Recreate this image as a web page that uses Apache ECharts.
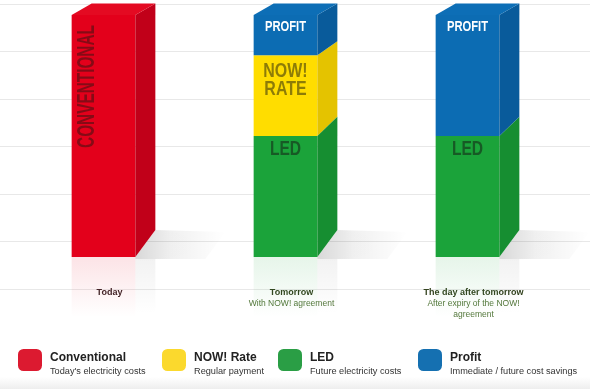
<!DOCTYPE html>
<html>
<head>
<meta charset="utf-8">
<script src="https://cdn.jsdelivr.net/npm/echarts@6/dist/echarts.min.js"></script>
<style>
html,body{margin:0;padding:0;background:#fff;}
#chart{width:590px;height:389px;}
</style>
</head>
<body>
<div id="chart"></div>
<script>
// ---- data ----
const categories = ['Today', 'Tomorrow', 'The day after tomorrow'];
const categoryNotes = ['', 'With NOW! agreement', 'After expiry of the NOW!\nagreement'];
const seriesNames = ['Conventional', 'NOW! Rate', 'LED', 'Profit'];
const seriesNotes = ["Today's electricity costs", 'Regular payment', 'Future electricity costs', 'Immediate / future cost savings'];
const barTexts = ['CONVENTIONAL', 'NOW!\nRATE', 'LED', 'PROFIT'];
const conventionalValues = [6, 0, 0];
const nowRateValues = [0, 2, 0];
const ledValues = [0, 3, 3];
const profitValues = [0, 1, 3];
const valueMax = 6;
const guideTicks = [0, 1, 2, 3, 4, 5, 6];

// ---- styles ----
const FONT = '"Liberation Sans", Arial, Helvetica, sans-serif';
const valueArrays = [conventionalValues, nowRateValues, ledValues, profitValues];
const stackOrder = [0, 2, 1, 3]; // bottom -> top (indices into seriesNames)
const faceStyles = [
  {front: '#e3001b', side: '#c10019', topc: '#e40a22', legend: '#dc1a30', text: '#850b16', fontSize: 24, scale: 0.64, rotate: true, cxOff: 16, cyOff: 71.5},
  {front: '#ffdd00', side: '#e4c300', legend: '#fbd92d', text: '#8d7c07', fontSize: 21, lineHeight: 18.5, scale: 0.76, cyOff: 25},
  {front: '#1ba33a', side: '#168e31', legend: '#2a9e45', text: '#175a25', fontSize: 20, scale: 0.78, cyOff: 13},
  {front: '#0c6cb3', side: '#095b9b', topc: '#0d6eb6', legend: '#1570b1', text: '#ffffff', fontSize: 14, scale: 0.8, cyOff: 12.3}
];
const legendLefts = [18, 162, 278, 418];

// ---- stacking ----
const totals = categories.map((c, i) => valueArrays.reduce((s, arr) => s + arr[i], 0));
const bases = categories.map(() => 0);
const segData = seriesNames.map(() => []);
stackOrder.forEach(si => {
  categories.forEach((c, i) => {
    const v = valueArrays[si][i];
    if (v > 0) {
      const lo = bases[i], hi = bases[i] + v;
      segData[si].push([i, lo, hi, lo === 0 ? 1 : 0, hi === totals[i] ? 1 : 0]);
      bases[i] = hi;
    }
  });
});

function lg(a, b, stops) {
  return new echarts.graphic.LinearGradient(a[0], a[1], b[0], b[1], stops);
}

function makeRender(si) {
  const st = faceStyles[si];
  const label = barTexts[si];
  return function (params, api) {
    const ci = api.value(0), lo = api.value(1), hi = api.value(2);
    const isBottom = api.value(3), isTop = api.value(4);
    const pb = api.coord([ci, lo]), pt = api.coord([ci, hi]);
    const w = api.size([1, 0])[0] * 0.35;
    const x0 = pb[0] - w / 2, x1 = x0 + w, yb = pb[1], yt = pt[1];
    const yAxisTop = api.coord([ci, valueMax])[1];
    const dyf = y => 11.5 + (y - yAxisTop) * 0.064;
    const dx = 20;
    const ch = [];
    if (isBottom) {
      const dyb = dyf(yb);
      ch.push({type: 'polygon', shape: {points: [[x1, yb], [x1 + dx, yb - dyb], [x1 + dx + 70, yb - dyb + 2], [x1 + dx + 50, yb + 2], [x1, yb + 2]]},
        style: {fill: lg([0, 0], [1, 0], [{offset: 0, color: 'rgba(0,0,0,0.15)'}, {offset: 0.4, color: 'rgba(0,0,0,0.06)'}, {offset: 1, color: 'rgba(0,0,0,0)'}]),
          shadowBlur: 8, shadowColor: 'rgba(0,0,0,0.05)'}});
      ch.push({type: 'rect', shape: {x: x0, y: yb, width: w, height: 60},
        style: {fill: lg([0, 0], [0, 1], [{offset: 0, color: echarts.color.modifyAlpha(st.front, 0.11)}, {offset: 1, color: echarts.color.modifyAlpha(st.front, 0)}])}});
      ch.push({type: 'rect', shape: {x: x1, y: yb + 2, width: dx, height: 55},
        style: {fill: lg([0, 0], [0, 1], [{offset: 0, color: 'rgba(0,0,0,0.05)'}, {offset: 1, color: 'rgba(0,0,0,0)'}])}});
    }
    ch.push({type: 'rect', shape: {x: x0, y: yt, width: w, height: yb - yt}, style: {fill: st.front}});
    ch.push({type: 'polygon', shape: {points: [[x1, yt], [x1 + dx, yt - dyf(yt)], [x1 + dx, yb - dyf(yb)], [x1, yb]]}, style: {fill: st.side}});
    if (isTop) {
      const dyt = dyf(yt);
      ch.push({type: 'polygon', shape: {points: [[x0, yt], [x0 + dx, yt - dyt], [x1 + dx, yt - dyt], [x1, yt]]}, style: {fill: st.topc || st.front}});
    }
    const cx = st.rotate ? x0 + st.cxOff : (x0 + x1) / 2;
    ch.push({
      type: 'text', x: cx, y: yt + st.cyOff,
      rotation: st.rotate ? Math.PI / 2 : 0,
      scaleX: st.scale,
      style: {text: label, fill: st.text, fontSize: st.fontSize, fontWeight: 'bold', fontFamily: FONT,
        align: 'center', verticalAlign: 'middle', lineHeight: st.lineHeight || st.fontSize}
    });
    return {type: 'group', children: ch};
  };
}

const series = seriesNames.map((name, si) => ({
  type: 'custom', name: name, xAxisIndex: 0, yAxisIndex: 0,
  itemStyle: {color: faceStyles[si].legend},
  renderItem: makeRender(si),
  encode: {x: 0, y: [1, 2]},
  data: segData[si],
  silent: true
}));
// decorative guide lines grid (no marks)
series.push({type: 'line', xAxisIndex: 1, yAxisIndex: 1, data: [], silent: true});

const legends = seriesNames.map((name, si) => ({
  data: [name], left: legendLefts[si], top: 349, padding: 0,
  icon: 'roundRect', itemWidth: 24, itemHeight: 22, selectedMode: false,
  formatter: n => '{t|' + n + '}\n{s|' + seriesNotes[si] + '}',
  textStyle: {padding: [8, 0, 0, 3], fontFamily: FONT, rich: {
    t: {fontSize: 12, fontWeight: 'bold', color: '#222', lineHeight: 15, fontFamily: FONT},
    s: {fontSize: 9.2, color: '#333', lineHeight: 13, fontFamily: FONT}
  }}
}));

const option = {
  backgroundColor: '#ffffff',
  animation: false,
  grid: [
    {left: 12.5, right: 31.5, top: 15, bottom: 132},
    {left: 0, right: 0, top: 4, bottom: 100}
  ],
  xAxis: [
    {type: 'category', gridIndex: 0, data: categories,
      axisLine: {show: false}, axisTick: {show: false}, splitLine: {show: false},
      axisLabel: {interval: 0, margin: 30.5, padding: [0, 0, 0, 12],
        formatter: (v, idx) => {
          let s = '{' + (idx === 0 ? 'tr' : 'tg') + '|' + v + '}';
          const note = categoryNotes[idx];
          if (note) note.split('\n').forEach(l => { s += '\n{s|' + l + '}'; });
          return s;
        },
        rich: {
          tr: {fontSize: 9, fontWeight: 'bold', color: '#3b2528', lineHeight: 11, fontFamily: FONT},
          tg: {fontSize: 9, fontWeight: 'bold', color: '#33431f', lineHeight: 11, fontFamily: FONT},
          s: {fontSize: 8.5, color: '#53773a', lineHeight: 11, fontFamily: FONT}
        }}},
    {type: 'value', gridIndex: 1, min: 0, max: 1, show: false}
  ],
  yAxis: [
    {type: 'value', gridIndex: 0, min: 0, max: valueMax, show: false},
    {type: 'value', gridIndex: 1, min: guideTicks[0], max: guideTicks[guideTicks.length - 1], interval: 1,
      axisLine: {show: false}, axisTick: {show: false}, axisLabel: {show: false},
      splitLine: {show: true, lineStyle: {color: '#e8e8e8', width: 1}}}
  ],
  legend: legends,
  graphic: [{
    type: 'rect', left: 0, bottom: 0, z: 0, silent: true,
    shape: {width: 590, height: 12},
    style: {fill: lg([0, 0], [0, 1], [{offset: 0, color: 'rgba(238,238,238,0)'}, {offset: 1, color: '#eeeeee'}])}
  }],
  series: series
};

const chart = echarts.init(document.getElementById('chart'), null, {renderer: 'canvas'});
chart.setOption(option);
</script>
</body>
</html>
